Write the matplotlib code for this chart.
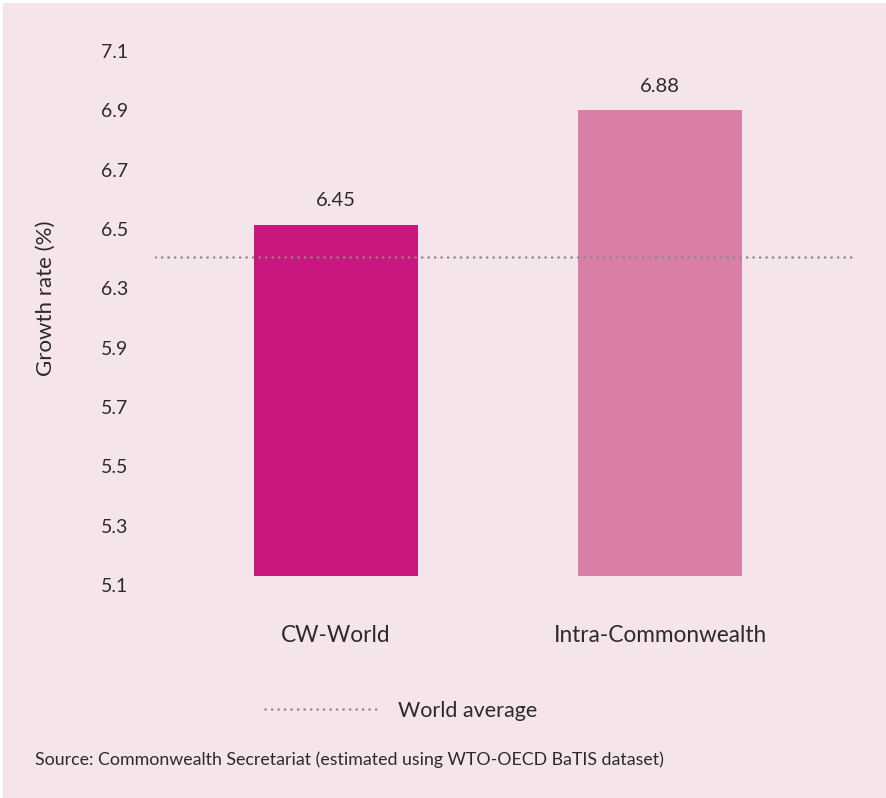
import numpy as np
import matplotlib
matplotlib.use("Agg")
from matplotlib import pyplot as plt
from matplotlib.lines import Line2D
from matplotlib.patches import Rectangle

categories = ["CW-World", "Intra-Commonwealth"]
values = [6.45, 6.88]
world_average = 6.33
bar_base = 5.134
tick_labels = ["5.1", "5.3", "5.5", "5.7", "5.9", "6.3", "6.5", "6.7", "6.9", "7.1"]

BG = "#f5e4ea"
bar_colors = ["#c8177e", "#d97fa7"]
text_color = "#2b2b2b"
dot_color = "#8a8a8a"

plt.rcParams["font.family"] = ["Lato", "DejaVu Sans"]

fig = plt.figure(figsize=(8.87, 7.98), dpi=100)
fig.patch.set_facecolor("white")
fig.add_artist(Rectangle((3 / 887, 0), 1, 1 - 3 / 798, transform=fig.transFigure,
                         facecolor=BG, edgecolor="none", zorder=-10))

ax = fig.add_axes([155 / 887, 1 - 585 / 798, 700 / 887, 534 / 798])
ax.set_facecolor("none")

x = np.arange(len(categories))
bars = ax.bar(x, np.array(values) - bar_base, bottom=bar_base, width=0.506,
              color=bar_colors, zorder=2)
for b, v in zip(bars, values):
    ax.annotate(f"{v:.2f}", (b.get_x() + b.get_width() / 2, v),
                xytext=(0, 17), textcoords="offset points",
                ha="center", va="center", fontsize=14.5, color=text_color)

ax.axhline(world_average, color=dot_color, lw=1.8, linestyle=(0, (0.1, 2.5)),
           dash_capstyle="round", zorder=3)

ax.set_xlim(-0.559, 1.602)
ax.set_ylim(5.1, 7.1)
ax.set_yticks(np.linspace(5.1, 7.1, len(tick_labels)))
ax.set_yticklabels(tick_labels)
ax.set_xticks(x)
ax.set_xticklabels(categories)
ax.tick_params(axis="y", length=0, pad=19, labelsize=14, labelcolor=text_color)
ax.tick_params(axis="x", length=0, pad=29, labelsize=16.3, labelcolor=text_color)
for s in ax.spines.values():
    s.set_visible(False)

fig.text(46 / 887, 1 - 298 / 798, "Growth rate (%)", rotation=90,
         ha="center", va="center", fontsize=16, color=text_color)

handle = Line2D([], [], color=dot_color, lw=1.8, linestyle=(0, (0.1, 2.5)),
                dash_capstyle="round")
fig.legend([handle], ["World average"], loc="center left",
           bbox_to_anchor=(265 / 887, 1 - 711 / 798), frameon=False,
           fontsize=15.5, handlelength=5.4, handletextpad=0.8, borderpad=0,
           borderaxespad=0, labelcolor=text_color)

fig.text(35 / 887, 1 - 760 / 798,
         "Source: Commonwealth Secretariat (estimated using WTO-OECD BaTIS dataset)",
         ha="left", va="center", fontsize=12.8, color=text_color)

fig.savefig("out.png", dpi=100, facecolor=fig.get_facecolor())
